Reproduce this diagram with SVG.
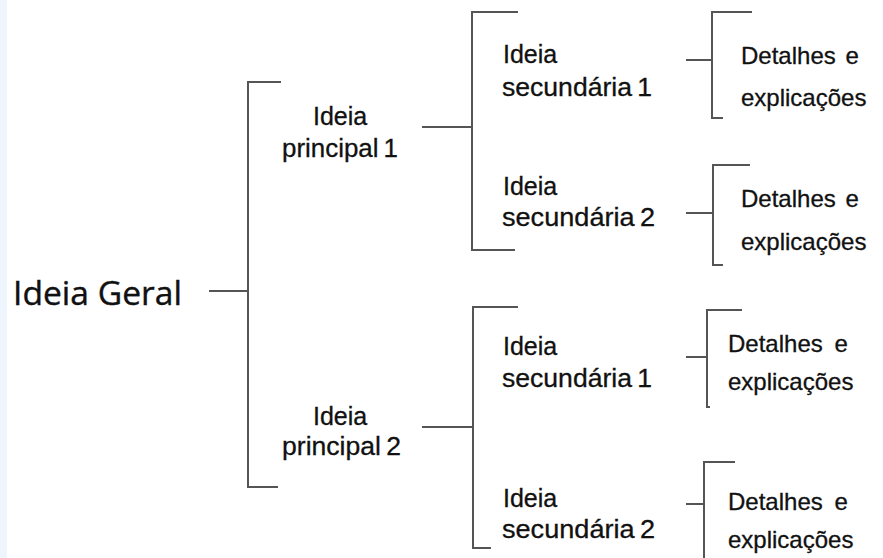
<svg xmlns="http://www.w3.org/2000/svg" width="883" height="558" viewBox="0 0 883 558">
<style>
.ln{fill:none;stroke:#555;stroke-width:2;stroke-linecap:square}
.t{font-family:"Liberation Sans",Arial,sans-serif;font-size:25px;fill:#111;stroke:#111;stroke-width:0.3}
.n{word-spacing:-2px}
.d{font-family:"Liberation Sans",Arial,sans-serif;font-size:24px;fill:#111;stroke:#111;stroke-width:0.3}
.g{font-family:"Open Sans","Noto Sans",sans-serif;font-size:33px;fill:#111;stroke:#111;stroke-width:0.4}
</style>
<rect x="0" y="0" width="883" height="558" fill="#ffffff"/>
<rect x="0" y="0" width="7" height="558" fill="#eef5fc"/>
<g id="connectors">
<path class="ln" d="M280,82 H248 V487 H277 M210,291 H248"/>
<path class="ln" d="M517,12 H472 V250 H514 M423,127 H472"/>
<path class="ln" d="M517,307 H473 V548 H490 M423,427 H473"/>
<path class="ln" d="M751,12 H712 V118 H722 M687,60 H712"/>
<path class="ln" d="M749,165 H713 V265 H722 M687,213 H713"/>
<path class="ln" d="M741,310 H707 V407 H709 M687,357 H707"/>
<path class="ln" d="M734,462 H704 V558 M687,504 H704"/>
</g>
<g id="ideia-geral"><text class="g" x="13" y="305" textLength="169" lengthAdjust="spacingAndGlyphs">Ideia Geral</text></g>
<g id="principal-1"><text class="t" x="313" y="125">Ideia</text><text class="t n" x="282" y="157" textLength="116" lengthAdjust="spacingAndGlyphs">principal 1</text></g>
<g id="principal-2"><text class="t" x="313" y="425">Ideia</text><text class="t n" x="282" y="455" textLength="119" lengthAdjust="spacingAndGlyphs">principal 2</text></g>
<g id="sec-1-1"><text class="t" x="503" y="63">Ideia</text><text class="t n" x="502" y="96" textLength="150" lengthAdjust="spacingAndGlyphs">secundária 1</text></g>
<g id="sec-1-2"><text class="t" x="503" y="195">Ideia</text><text class="t n" x="502" y="226" textLength="153" lengthAdjust="spacingAndGlyphs">secundária 2</text></g>
<g id="sec-2-1"><text class="t" x="503" y="355">Ideia</text><text class="t n" x="502" y="387" textLength="150" lengthAdjust="spacingAndGlyphs">secundária 1</text></g>
<g id="sec-2-2"><text class="t" x="503" y="507">Ideia</text><text class="t n" x="502" y="538" textLength="153" lengthAdjust="spacingAndGlyphs">secundária 2</text></g>
<g id="det-1"><text class="d" x="741" y="64" word-spacing="3">Detalhes e</text><text class="d" x="741" y="106">explicações</text></g>
<g id="det-2"><text class="d" x="741" y="207" word-spacing="3">Detalhes e</text><text class="d" x="741" y="250">explicações</text></g>
<g id="det-3"><text class="d" x="728" y="352" word-spacing="5">Detalhes e</text><text class="d" x="728" y="390">explicações</text></g>
<g id="det-4"><text class="d" x="728" y="510" word-spacing="5">Detalhes e</text><text class="d" x="728" y="548">explicações</text></g>
</svg>
